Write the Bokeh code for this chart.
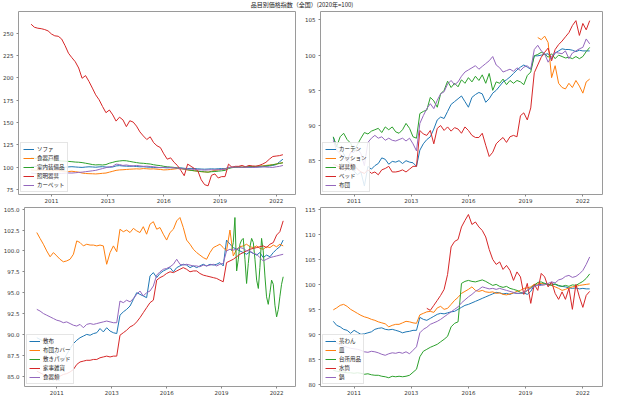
import numpy as np
import pandas as pd
from bokeh.plotting import figure
from bokeh.layouts import column, row
from bokeh.models import (Div, Range1d, FixedTicker, DatetimeTickFormatter,
                          NumeralTickFormatter, SingleIntervalTicker, Legend, LegendItem)
from bokeh.embed import file_html
from bokeh.resources import INLINE

NAN = np.nan
TITLE = "品目別価格指数（全国）(2020年=100)"
# bimonthly sample dates (Jan, Mar, May, Jul, Sep, Nov) 2010-01 .. 2022-05
DATES = pd.date_range("2010-01-01", "2022-05-01", freq="2MS")
# monthly dates for the short series 敷きパッド
PAD_DATES = pd.date_range("2019-10-01", "2022-05-01", freq="MS")
TICK_DATES = ["2011-01-01", "2013-10-01", "2016-07-01", "2019-04-01", "2022-01-01"]
COLORS = ["#1f77b4", "#ff7f0e", "#2ca02c", "#d62728", "#9467bd"]

# ---------------- panel 1 (top left) ----------------
NAMES_1 = ["ソファ", "食器戸棚", "室内装備品", "照明器具", "カーペット"]
SOFA = [100.5, 100.8, 101.0, 100.7, 100.5, 100.2,
        100.0, 100.3, 100.5, 100.2, 100.0, 100.4,
        100.6, 100.3, 100.0, 99.8, 100.2, 100.5,
        100.3, 100.0, 100.4, 100.6, 100.2, 100.0,
        100.3, 101.5, 101.8, 101.4, 101.2, 101.0,
        101.2, 100.8, 100.5, 100.6, 100.2, 100.0,
        99.8, 99.5, 99.8, 99.6, 99.3, 99.5,
        99.2, 99.0, 99.3, 98.8, 98.5, 98.7,
        98.5, 98.2, 98.0, 97.8, 98.0, 98.2,
        98.0, 98.3, 98.5, 98.4, 99.8, 99.9,
        100.0, 100.2, 99.8, 100.1, 100.0, 99.9,
        100.1, 100.3, 100.5, 101.0, 101.5, 102.0,
        103.0, 106.0, 109.0]
CUPBOARD = [97.0, 96.8, 96.5, 96.8, 96.5, 96.2,
            96.0, 96.5, 96.2, 95.8, 95.5, 95.2,
            95.5, 95.0, 94.5, 93.5, 93.0, 92.8,
            92.7, 92.5, 92.8, 93.2, 93.5, 94.5,
            95.5, 96.5, 97.0, 97.2, 97.5, 97.8,
            98.0, 98.2, 98.0, 98.5, 98.3, 98.0,
            98.2, 97.8, 97.5, 97.0, 97.2, 97.5,
            98.0, 98.5, 98.2, 97.8, 97.0, 96.5,
            96.0, 95.5, 95.0, 94.8, 94.5, 95.5,
            96.5, 97.0, 97.5, 97.8, 99.5, 100.0,
            100.2, 100.5, 100.0, 100.6, 101.0, 100.8,
            101.0, 101.2, 101.5, 102.0, 102.5, 102.8,
            103.5, 104.5, 105.0]
FITTINGS = [110.5, 110.0, 109.5, 109.0, 108.5, 108.2,
            108.0, 107.6, 107.4, 107.0, 106.8, 106.5,
            106.2, 105.8, 105.6, 105.2, 104.5, 103.8,
            103.0, 102.6, 102.8, 102.5, 103.0, 104.5,
            105.5, 106.5, 107.0, 107.4, 107.2, 106.5,
            105.8, 105.2, 104.6, 104.4, 104.0, 103.6,
            102.8, 102.2, 101.8, 101.0, 100.5, 100.2,
            99.8, 99.2, 98.8, 98.0, 97.2, 96.5,
            96.0, 95.6, 95.2, 94.8, 94.5, 95.0,
            95.2, 95.6, 96.0, 96.5, 98.5, 99.5,
            100.0, 100.2, 100.0, 100.4, 100.6, 100.8,
            101.0, 101.0, 101.2, 101.5, 102.0, 102.8,
            103.5, 104.2, 105.0]
LIGHTING = [260.0, 256.6, 255.5, 255.0, 254.0, 252.5,
            249.0, 247.0, 246.5, 243.5, 236.0, 227.5,
            222.5, 218.0, 211.0, 199.5, 202.5, 196.0,
            188.5, 181.0, 175.5, 168.0, 161.0, 164.0,
            158.5, 151.6, 156.0, 153.0, 145.4, 152.0,
            150.5, 146.0, 139.5, 135.0, 131.0, 134.0,
            127.5, 124.0, 122.0, 115.0, 109.0, 110.5,
            105.5, 102.0, 96.5, 90.5, 103.5, 101.0,
            98.5, 96.0, 86.0, 80.5, 79.2, 91.0,
            92.5, 88.0, 89.5, 89.5, 103.5, 100.0,
            101.0, 101.0, 102.0, 100.5, 102.0, 101.5,
            101.0, 102.0, 103.5, 105.5, 109.0, 112.0,
            112.5, 113.0, 114.0]
CARPET = [93.5, 93.0, 92.8, 92.5, 92.2, 92.0,
          92.3, 92.5, 92.8, 93.0, 93.4, 93.6,
          93.5, 93.8, 94.2, 94.5, 95.0, 95.5,
          96.0, 96.5, 97.5, 98.5, 99.5, 100.5,
          101.0, 103.5, 103.0, 102.0, 102.5, 101.8,
          101.5, 102.0, 101.5, 101.0, 101.2, 100.8,
          100.5, 100.0, 99.5, 99.8, 100.0, 99.6,
          99.5, 99.0, 98.5, 98.2, 98.0, 97.8,
          97.5, 97.2, 97.0, 96.8, 97.0, 97.2,
          97.0, 97.3, 97.5, 97.8, 99.5, 100.0,
          100.2, 100.0, 99.8, 100.2, 100.0, 99.8,
          100.0, 100.3, 100.5, 100.2, 100.0, 99.8,
          100.5, 101.0, 102.0]

# ---------------- panel 2 (top right) ----------------
NAMES_2 = ["カーテン", "クッション", "寝具類", "ベッド", "布団"]
CURTAIN = [88.3, 87.0, 86.8, 86.0, 85.0, 84.5,
           83.5, 83.0, 83.4, 81.4, 84.2, 83.8,
           84.3, 84.6, 85.4, 85.2, 84.5, 84.9,
           84.8, 85.0, 84.6, 85.0, 84.8, 84.7,
           84.2, 86.5, 87.4, 88.0, 88.4, 89.5,
           90.8, 91.2, 91.0, 92.0, 93.0, 93.4,
           93.8, 94.2, 93.4, 92.6, 94.0, 94.4,
           94.7, 94.5, 93.3, 93.8, 94.6, 95.0,
           95.6, 96.2, 96.5, 96.9, 97.4, 97.9,
           98.3, 98.6, 98.3, 98.0, 99.9, 99.9,
           100.0, 100.1, 100.2, 99.5, 100.3, 100.6,
           100.9, 100.8, 100.8, 100.7, 100.5, 100.7,
           100.6, 100.6, 100.6]
CUSHION = [NAN] * 59 + [102.5,
           102.2, 102.7, 101.8, 96.8, 98.5, 96.0,
           95.4, 95.2, 96.0, 95.4, 96.4, 95.6,
           94.6, 96.2, 96.6]
BEDDING = [88.4, 87.0, 88.4, 88.9, 88.0, 87.5,
           86.4, 87.3, 88.2, 89.0, 88.8, 89.2,
           89.4, 89.6, 89.0, 89.8, 89.4, 89.8,
           89.1, 88.9, 89.4, 90.3, 89.6, 88.4,
           88.2, 91.7, 92.0, 92.2, 94.0, 93.5,
           92.6, 94.5, 95.0, 96.3, 95.4, 96.0,
           95.5, 96.5, 96.0, 96.8, 96.2, 97.0,
           96.4, 97.2, 96.0, 97.4, 95.0, 96.2,
           96.0, 96.6, 95.8, 96.4, 96.0, 96.4,
           96.2, 95.8, 97.1, 97.6, 99.9, 100.1,
           100.4, 100.2, 99.7, 100.2, 99.5, 100.0,
           99.8, 99.6, 99.7, 99.5, 99.8, 99.5,
           99.8, 100.5, 101.1]
BED = [84.5, 84.3, 84.0, 83.8, 84.2, 84.4,
       84.4, 83.8, 83.4, 83.2, 83.7, 83.2,
       83.4, 83.0, 83.7, 83.9, 84.2, 83.4,
       83.4, 83.5, 83.7, 83.4, 83.8, 84.2,
       84.2, 89.3, 88.8, 88.6, 89.3, 87.4,
       89.6, 90.0, 89.3, 89.8, 89.2, 89.7,
       89.5, 88.9, 89.8, 89.3, 88.6, 88.3,
       88.3, 88.9, 87.2, 85.6, 86.2, 87.4,
       87.9, 88.3, 87.6, 88.4, 88.6, 88.4,
       91.4, 91.8, 90.8, 92.5, 97.5, 98.6,
       99.7, 100.4, 101.0, 99.2, 100.8, 101.5,
       102.0, 102.6, 103.2, 104.2, 104.9, 102.8,
       104.5, 103.6, 104.9]
FUTON = [87.9, 86.5, 86.0, 85.4, 85.0, 86.2,
         86.2, 86.8, 86.0, 84.3, 87.6, 88.2,
         88.6, 88.2, 88.4, 87.9, 88.2, 87.9,
         87.8, 88.0, 88.2, 87.8, 88.2, 87.4,
         86.4, 90.3, 91.4, 92.4, 93.1, 92.4,
         93.6, 94.5, 94.8, 95.9, 96.4, 95.8,
         96.2, 97.0, 97.6, 97.9, 98.2, 98.5,
         98.0, 98.4, 98.8, 99.2, 99.8, 98.6,
         98.2, 97.6, 97.8, 98.0, 97.7, 98.2,
         97.8, 98.3, 98.5, 98.0, 100.8, 101.4,
         100.6, 100.2, 99.0, 99.8, 100.4, 100.3,
         100.2, 100.6, 99.5, 100.3, 100.6, 100.9,
         101.1, 102.3, 101.6]

# ---------------- panel 3 (bottom left) ----------------
NAMES_3 = ["敷布", "布団カバー", "敷きパッド", "家事雑貨", "食器類"]
SHEET = [89.6, 89.4, 89.2, 88.8, 88.4, 88.0,
         87.5, 87.0, 86.8, 87.6, 88.3, 88.9,
         89.3, 89.6, 89.8, 90.0, 89.9, 90.1,
         90.2, 90.7, 90.3, 90.8, 90.4, 90.2,
         90.1, 92.3, 92.7, 93.0, 93.4, 94.2,
         95.0, 94.8, 94.6, 94.4, 97.0, 97.4,
         96.8, 97.3, 97.6, 97.8, 98.0, 97.5,
         98.0, 98.2, 98.4, 98.3, 98.0, 98.2,
         98.0, 98.2, 98.4, 98.2, 98.4, 98.3,
         98.4, 98.6, 98.2, 101.3, 100.8, 100.4,
         100.2, 100.0, 99.8, 99.6, 99.9, 99.7,
         99.5, 99.8, 99.2, 99.5, 99.3, 99.8,
         100.2, 100.5, 101.3]
COVER = [102.2, 101.5, 100.8, 100.0, 99.3, 99.8,
         99.4, 99.0, 98.7, 98.8, 99.0, 99.6,
         101.2, 101.0, 100.6, 100.8, 100.7, 100.7,
         100.6, 100.7, 100.6, 98.4, 99.8, 100.6,
         99.9, 102.6, 102.3, 102.5, 102.2, 102.7,
         102.4, 102.2, 102.9, 102.0, 103.2, 103.5,
         102.6, 102.8, 102.0, 101.3, 102.2, 102.6,
         103.6, 104.0, 102.8, 101.3, 100.8, 100.2,
         99.8, 99.5, 99.2, 99.0, 99.8, 100.4,
         100.6, 100.8, 100.4, 100.0, 102.5, 99.4,
         100.2, 100.5, 100.6, 100.8, 100.5, 100.4,
         100.6, 100.3, 100.2, 100.5, 100.4, 100.7,
         100.5, 100.8, 100.6]
PAD = [100.0, 101.0, 104.0, 97.6, 99.0, 100.8, 101.3, 101.5, 99.0, 96.1, 98.5, 100.5,
       101.5, 101.0, 99.0, 96.5, 95.5, 98.0, 101.5, 100.0, 97.0, 94.5, 93.6, 95.0,
       96.5, 96.0, 93.5, 92.1, 93.0, 94.5, 96.0, 96.9]
HOUSEWARE = [85.6, 85.4, 85.2, 85.0, 84.8, 84.7,
             84.8, 85.0, 85.2, 85.3, 85.5, 85.8,
             86.4, 86.7, 86.8, 86.9, 86.9, 87.0,
             87.0, 87.2, 87.3, 87.4, 87.3, 87.4,
             87.4, 89.9, 90.2, 90.5, 90.9, 91.1,
             91.5, 92.0, 92.6, 93.2, 93.8, 94.1,
             96.5, 96.8, 97.0, 97.3, 97.5, 97.4,
             97.6, 97.8, 98.0, 97.8, 97.5, 97.6,
             97.6, 97.3, 97.1, 97.0, 96.9, 96.8,
             96.7, 96.5, 96.3, 98.6, 98.8, 99.0,
             99.3, 99.6, 99.8, 100.0, 100.2, 100.3,
             100.4, 100.5, 100.6, 100.4, 100.8, 101.0,
             101.9, 102.3, 103.6]
TABLEWARE = [93.0, 92.8, 92.5, 92.3, 92.1, 91.9,
             91.7, 91.6, 91.4, 91.5, 91.3, 91.1,
             91.0, 91.2, 90.8, 91.2, 91.3, 91.2,
             91.3, 91.4, 91.5, 91.6, 91.5, 91.4,
             91.4, 94.0, 93.8, 94.1, 93.9, 94.3,
             94.8, 95.2, 94.6, 95.0, 95.2, 95.8,
             97.1, 97.5, 97.8, 97.9, 98.1, 98.4,
             99.0, 98.4, 98.3, 98.4, 98.3, 98.2,
             98.2, 98.1, 98.3, 98.2, 98.3, 98.4,
             98.2, 98.4, 98.5, 100.0, 100.2, 100.1,
             100.2, 100.4, 100.3, 100.0, 100.0, 99.7,
             99.6, 99.2, 98.8, 99.0, 99.2, 99.3,
             99.4, 99.5, 99.6]

# ---------------- panel 4 (bottom right) ----------------
NAMES_4 = ["茶わん", "皿", "台所用品", "水筒", "鍋"]
BOWL = [92.6, 91.8, 91.5, 91.0, 90.8, 90.2,
        90.8, 90.4, 90.0, 90.1, 90.3, 90.5,
        91.0, 91.2, 91.3, 91.0, 90.9, 91.0,
        90.8, 90.6, 90.3, 90.5, 90.6, 90.8,
        90.8, 93.4, 93.0, 92.8, 93.2, 93.6,
        94.0, 94.2, 94.1, 94.3, 94.5, 94.6,
        95.0, 95.4, 95.8, 96.0, 96.3, 96.6,
        96.9, 97.2, 97.5, 97.8, 98.1, 98.4,
        98.3, 98.1, 98.2, 98.0, 98.3, 98.2,
        98.2, 98.3, 98.0, 98.6, 99.8, 99.9,
        100.0, 100.2, 99.8, 100.1, 100.0, 99.7,
        99.6, 99.5, 99.3, 99.2, 99.3, 99.1,
        99.2, 99.1, 99.1]
PLATE = [94.9, 95.3, 95.8, 96.0, 95.6, 95.0,
         94.6, 94.2, 93.8, 93.5, 93.3, 93.0,
         92.8, 92.5, 92.3, 92.1, 91.5, 91.8,
         92.0, 92.0, 92.3, 92.6, 92.5, 92.3,
         92.2, 93.9, 94.2, 94.5, 94.6, 94.4,
         95.3, 95.6, 95.0, 95.2, 96.0, 96.8,
         97.4, 98.2, 98.6, 99.0, 99.5, 98.8,
         98.6, 98.8, 98.5, 98.4, 98.5, 98.2,
         98.3, 98.0, 97.9, 98.1, 98.3, 98.6,
         98.8, 99.2, 99.3, 99.5, 100.0, 100.1,
         100.2, 100.0, 100.1, 99.8, 99.5, 99.2,
         98.8, 99.0, 99.3, 99.5, 99.6, 99.8,
         99.9, 100.0, 100.1]
KITCHEN = [82.8, 82.6, 82.5, 82.4, 82.3, 82.3,
           82.2, 82.3, 82.2, 82.0, 82.1, 81.9,
           81.8, 81.8, 81.6, 81.5, 81.3, 81.6,
           81.5, 81.6, 81.5, 81.6, 81.8, 82.4,
           83.0, 85.5, 86.6, 87.0, 87.4, 87.7,
           88.0, 88.5, 89.0, 89.6, 91.5, 92.2,
           92.5, 100.2, 100.6, 100.8, 100.6, 100.5,
           100.7, 100.9, 100.6, 100.2, 99.8, 100.0,
           99.6, 99.4, 99.6, 99.2, 99.0, 98.8,
           98.4, 98.2, 98.8, 99.3, 99.8, 100.4,
           100.5, 100.2, 100.0, 99.8, 100.1, 99.8,
           99.6, 99.8, 99.6, 99.9, 99.8, 100.2,
           100.6, 101.2, 102.1]
BOTTLE = [NAN] * 27 + [95.2, 94.8, 95.8,
          96.8, 97.8, 99.0, 102.0, 107.5, 108.6,
          109.0, 111.5, 112.8, 114.0, 112.0, 112.5,
          111.5, 110.8, 109.5, 107.0, 105.0, 104.0,
          104.5, 103.0, 103.8, 102.8, 100.8, 102.5,
          101.5, 98.0, 100.2, 96.2, 100.0, 98.8,
          102.2, 101.5, 99.5, 100.5, 98.2, 97.0,
          98.5, 97.0, 99.2, 95.0, 100.0, 97.5,
          95.4, 97.8, 98.6]
POT = [89.0, 88.3, 87.9, 87.6, 87.4, 87.2,
       87.1, 87.0, 86.8, 86.5, 86.4, 86.6,
       86.5, 86.3, 86.0, 85.8, 86.1, 86.3,
       86.2, 86.4, 86.2, 86.5, 86.1, 86.8,
       87.5, 90.3, 91.0, 91.4, 92.0, 92.3,
       92.6, 93.0, 93.5, 94.0, 94.5, 95.0,
       95.5, 96.3, 96.9, 97.5, 98.0, 98.6,
       99.0, 99.5, 99.3, 99.1, 99.2, 99.0,
       99.2, 99.0, 98.8, 98.6, 98.4, 98.2,
       98.2, 98.4, 98.8, 99.2, 99.6, 99.8,
       99.8, 99.9, 100.2, 100.5, 100.3, 100.9,
       101.1, 101.6, 101.8, 101.4, 101.6, 102.1,
       102.8, 104.0, 105.5]

FONT_JP = "Noto Sans CJK JP"
FONT_TICK = "DejaVu Sans"

pad_days = pd.Timedelta(days=225)
X0 = DATES[0] - pad_days
X1 = DATES[-1] + pad_days
tick_ms = [pd.Timestamp(d).value // 10**6 for d in TICK_DATES]


def make_panel(names, series, xs_list, yr, interval, fmt, height, borders):
    p = figure(width=302, height=height, x_axis_type="datetime",
               output_backend="svg", toolbar_location=None,
               x_range=Range1d(X0, X1), y_range=Range1d(*yr))
    p.min_border_left, p.min_border_right, p.min_border_top, p.min_border_bottom = borders
    p.outline_line_color = "#9a9a9a"
    p.outline_line_width = 1
    p.background_fill_color = "white"
    p.border_fill_color = "white"
    p.xgrid.visible = False
    p.ygrid.visible = False
    p.xaxis.ticker = FixedTicker(ticks=tick_ms)
    p.xaxis.formatter = DatetimeTickFormatter(years="%Y", months="%Y", days="%Y")
    p.yaxis.ticker = SingleIntervalTicker(interval=interval)
    if fmt:
        p.yaxis.formatter = NumeralTickFormatter(format=fmt)
    for ax in p.axis:
        ax.axis_line_color = None
        ax.major_tick_line_color = "#888888"
        ax.major_tick_out = 2
        ax.major_tick_in = 0
        ax.minor_tick_line_color = None
        ax.major_label_text_font = FONT_TICK
        ax.major_label_text_font_size = "5.5px"
        ax.major_label_text_color = "#333333"
        ax.major_label_standoff = 1
    items = []
    for name, vals, xs, c in zip(names, series, xs_list, COLORS):
        r = p.line(xs, np.array(vals, dtype=float), line_color=c, line_width=1)
        items.append(LegendItem(label=name, renderers=[r]))
    leg = Legend(items=items, location="bottom_left")
    leg.label_text_font = FONT_JP
    leg.label_text_font_size = "5.5px"
    leg.label_text_color = "#222222"
    leg.label_height = 6
    leg.glyph_height = 6
    leg.glyph_width = 11
    leg.label_standoff = 3
    leg.spacing = 1
    leg.padding = 2
    leg.margin = 2
    leg.border_line_color = "#cccccc"
    leg.border_line_width = 1
    leg.background_fill_alpha = 0.85
    p.add_layout(leg)
    return p


p1 = make_panel(NAMES_1, [SOFA, CUPBOARD, FITTINGS, LIGHTING, CARPET], [DATES] * 5,
                (69.5, 274.2), 25, None, 196, (17, 7, 2, 11))
p2 = make_panel(NAMES_2, [CURTAIN, CUSHION, BEDDING, BED, FUTON], [DATES] * 5,
                (80.2, 106.2), 5, None, 196, (14, 2, 2, 11))
p3 = make_panel(NAMES_3, [SHEET, COVER, PAD, HOUSEWARE, TABLEWARE],
                [DATES, DATES, PAD_DATES, DATES, DATES],
                (83.76, 105.2), 2.5, "0.0", 192, (17, 7, 2, 11))
p4 = make_panel(NAMES_4, [BOWL, PLATE, KITCHEN, BOTTLE, POT], [DATES] * 5,
                (79.55, 115.4), 5, None, 192, (14, 2, 2, 11))

title = Div(text=TITLE, width=604, height=9, margin=(0, 0, 0, 0),
            styles={"text-align": "center", "font-size": "6px", "line-height": "9px",
                    "font-family": FONT_JP, "color": "#222222", "width": "604px"})

layout = column(title, row(p1, p2), row(p3, p4))
open("out.html", "w").write(file_html(layout, INLINE))
